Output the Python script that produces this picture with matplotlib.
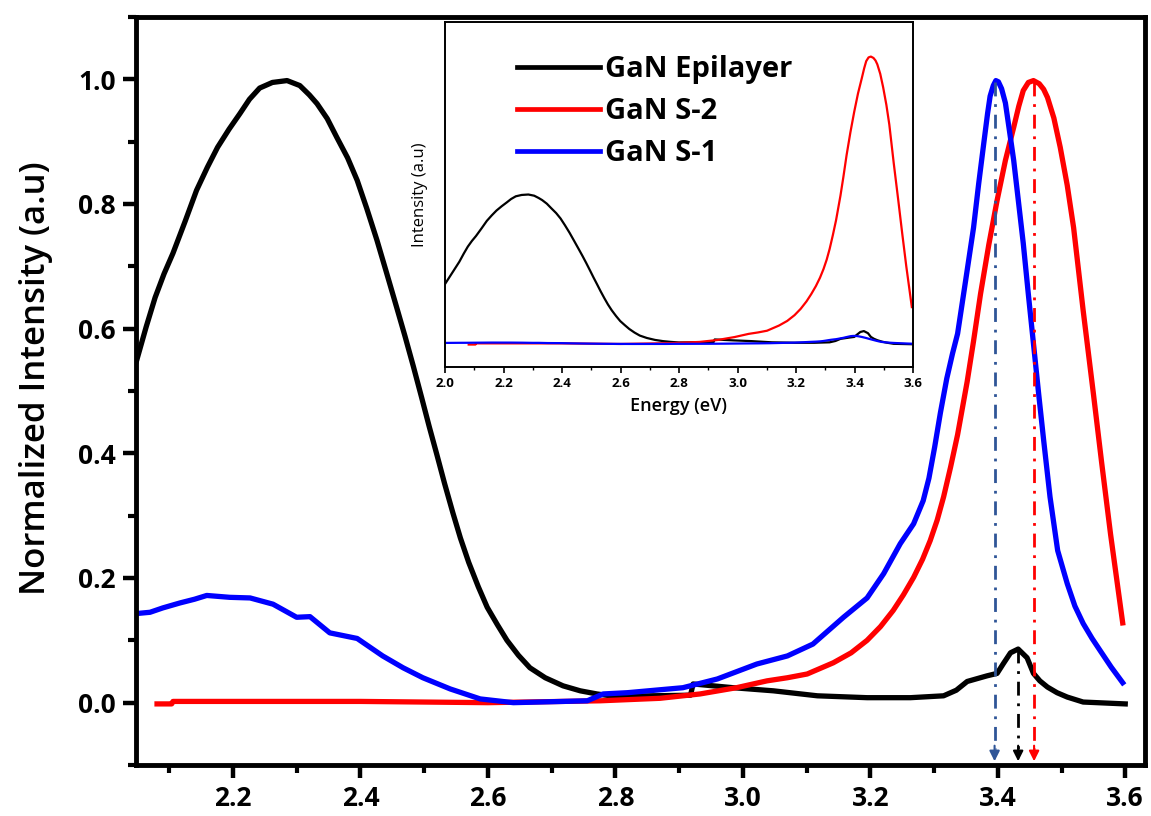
import matplotlib
matplotlib.use("Agg")
import matplotlib.pyplot as plt
from matplotlib.ticker import MultipleLocator, NullLocator
from matplotlib.lines import Line2D

plt.rcParams['font.family'] = ['Open Sans', 'DejaVu Sans']

# ---------------- data ----------------
epi_x = [2.000, 2.049, 2.064, 2.078, 2.092, 2.106, 2.125, 2.143, 2.160, 2.176, 2.194,
         2.211, 2.226, 2.242, 2.262, 2.285, 2.305, 2.320, 2.332, 2.348, 2.363, 2.380,
         2.395, 2.410, 2.426, 2.441, 2.457, 2.470, 2.483, 2.496, 2.508, 2.520, 2.532,
         2.545, 2.557, 2.570, 2.585, 2.599, 2.615, 2.630, 2.648, 2.666, 2.690, 2.718,
         2.745, 2.771, 2.800, 2.855, 2.918, 2.922, 2.985, 3.048, 3.117, 3.195, 3.263,
         3.315, 3.335, 3.352, 3.383, 3.399, 3.409, 3.420, 3.432, 3.446, 3.456, 3.466,
         3.478, 3.493, 3.509, 3.534, 3.600]
epi_y = [0.400, 0.549, 0.603, 0.650, 0.688, 0.721, 0.772, 0.822, 0.859, 0.891, 0.920,
         0.945, 0.968, 0.986, 0.995, 0.998, 0.990, 0.975, 0.961, 0.937, 0.907, 0.874,
         0.838, 0.793, 0.742, 0.690, 0.634, 0.588, 0.540, 0.490, 0.443, 0.398, 0.352,
         0.305, 0.264, 0.225, 0.186, 0.153, 0.125, 0.100, 0.076, 0.056, 0.040, 0.027,
         0.019, 0.014, 0.010, 0.011, 0.012, 0.030, 0.024, 0.019, 0.011, 0.008, 0.008,
         0.011, 0.020, 0.034, 0.043, 0.047, 0.063, 0.080, 0.086, 0.072, 0.047, 0.035,
         0.025, 0.016, 0.009, 0.001, -0.002]

s2_x = [2.081, 2.104, 2.106, 2.400, 2.600, 2.776, 2.870, 2.933, 2.990, 3.038, 3.070,
        3.101, 3.142, 3.170, 3.195, 3.216, 3.236, 3.252, 3.268, 3.282, 3.294, 3.305,
        3.315, 3.326, 3.337, 3.352, 3.362, 3.373, 3.386, 3.399, 3.412, 3.425, 3.433,
        3.440, 3.448, 3.456, 3.465, 3.472, 3.478, 3.488, 3.498, 3.509, 3.519, 3.534,
        3.550, 3.563, 3.577, 3.596]
s2_y = [-0.002, -0.002, 0.002, 0.002, 0.000, 0.003, 0.007, 0.014, 0.024, 0.035, 0.040,
        0.046, 0.064, 0.080, 0.100, 0.122, 0.148, 0.173, 0.201, 0.230, 0.260, 0.293,
        0.330, 0.378, 0.430, 0.515, 0.580, 0.656, 0.735, 0.806, 0.870, 0.923, 0.957,
        0.982, 0.995, 0.998, 0.993, 0.984, 0.971, 0.938, 0.891, 0.830, 0.762, 0.629,
        0.496, 0.385, 0.270, 0.128]

s1_x = [2.000, 2.049, 2.070, 2.090, 2.117, 2.140, 2.159, 2.195, 2.227, 2.263, 2.300,
        2.321, 2.352, 2.395, 2.435, 2.467, 2.498, 2.541, 2.588, 2.640, 2.718, 2.756,
        2.781, 2.819, 2.906, 2.960, 3.022, 3.070, 3.110, 3.158, 3.195, 3.221, 3.247,
        3.268, 3.283, 3.292, 3.301, 3.310, 3.320, 3.329, 3.337, 3.350, 3.362, 3.370,
        3.378, 3.384, 3.388, 3.393, 3.397, 3.401, 3.406, 3.412, 3.418, 3.425, 3.432,
        3.440, 3.448, 3.456, 3.464, 3.472, 3.482, 3.494, 3.509, 3.521, 3.534, 3.548,
        3.561, 3.578, 3.596]
s1_y = [0.130, 0.143, 0.145, 0.152, 0.160, 0.166, 0.172, 0.169, 0.168, 0.158, 0.137,
        0.138, 0.112, 0.103, 0.075, 0.056, 0.040, 0.022, 0.006, 0.000, 0.002, 0.003,
        0.014, 0.016, 0.024, 0.038, 0.062, 0.075, 0.094, 0.137, 0.168, 0.207, 0.255,
        0.287, 0.324, 0.360, 0.410, 0.465, 0.520, 0.560, 0.592, 0.680, 0.762, 0.832,
        0.897, 0.945, 0.973, 0.990, 0.998, 0.996, 0.985, 0.962, 0.920, 0.870, 0.808,
        0.737, 0.655, 0.576, 0.497, 0.421, 0.330, 0.244, 0.191, 0.155, 0.127, 0.103,
        0.083, 0.057, 0.032]

# relative intensities of the three samples in the inset (S-2 peak = 1)
inset_scale = {'epi': 0.52, 's2': 1.0, 's1': 0.028}

# peak-position markers (x, top of marker)
mark_x = [3.395, 3.432, 3.457]
mark_top = [0.995, 0.086, 0.995]
mark_colors = ['#2F5597', 'black', 'red']

labels = ['GaN Epilayer', 'GaN S-2', 'GaN S-1']

# ---------------- figure ----------------
W, H = 1151, 816
fig = plt.figure(figsize=(W / 100, H / 100), dpi=100)
ax = fig.add_axes([136 / W, (H - 765) / H, (1145 - 136) / W, (765 - 17) / H])

lw_main = 3.8
ax.plot(epi_x, epi_y, color='black', lw=lw_main)
ax.plot(s2_x, s2_y, color='#ff0000', lw=lw_main)
ax.plot(s1_x, s1_y, color='#0000ff', lw=lw_main)

ax.set_xlim(2.048, 3.631)
ax.set_ylim(-0.1, 1.1)

y_arrow_end = -0.094
for xm, yt, c in zip(mark_x, mark_top, mark_colors):
    ax.plot([xm, xm], [yt, y_arrow_end + 0.02], color=c, lw=2.0,
            linestyle=(0, (5, 2.8, 1, 2.8)))
    ax.annotate('', xy=(xm, y_arrow_end), xytext=(xm, y_arrow_end + 0.025),
                arrowprops=dict(arrowstyle='-|>,head_length=0.6,head_width=0.3',
                                color=c, lw=1.5, shrinkA=0, shrinkB=0))

ax.set_yticks([0.0, 0.2, 0.4, 0.6, 0.8, 1.0])
ax.set_xticks([2.2, 2.4, 2.6, 2.8, 3.0, 3.2, 3.4, 3.6])
ax.xaxis.set_minor_locator(MultipleLocator(0.1))
ax.yaxis.set_minor_locator(MultipleLocator(0.1))
ax.tick_params(which='major', direction='out', length=9.5, width=3.2, pad=5,
               labelsize=19)
ax.tick_params(which='minor', direction='out', length=6, width=3.0)
for lab in ax.get_xticklabels() + ax.get_yticklabels():
    lab.set_fontweight('bold')
for s in ax.spines.values():
    s.set_linewidth(3.5)

ax.set_ylabel('Normalized Intensity (a.u)', fontsize=25, fontweight='semibold')
ax.yaxis.set_label_coords(-0.082, 0.517)

# ---------------- inset ----------------
axi = fig.add_axes([445 / W, (H - 367) / H, (913 - 445) / W, (367 - 22) / H])
axi.plot(epi_x, [v * inset_scale['epi'] for v in epi_y], color='black', lw=1.6)
axi.plot(s2_x, [v * inset_scale['s2'] for v in s2_y], color='#ff0000', lw=1.6)
axi.plot(s1_x, [v * inset_scale['s1'] for v in s1_y], color='#0000ff', lw=1.6)
axi.set_xlim(2.0, 3.6)
axi.set_ylim(-0.08, 1.118)
axi.xaxis.set_major_locator(MultipleLocator(0.2))
axi.xaxis.set_minor_locator(MultipleLocator(0.1))
axi.yaxis.set_major_locator(NullLocator())
axi.tick_params(which='major', direction='out', length=4, width=1.2, pad=3,
                labelsize=9.5)
axi.tick_params(which='minor', direction='out', length=2.5, width=1.0)
for lab in axi.get_xticklabels():
    lab.set_fontweight('bold')
for s in axi.spines.values():
    s.set_linewidth(1.4)
axi.set_xlabel('Energy (eV)', fontsize=13, fontweight='semibold', labelpad=5)
axi.set_ylabel('Intensity (a.u)', fontsize=12, labelpad=12)

handles = [Line2D([], [], color='black', lw=3.4),
           Line2D([], [], color='#ff0000', lw=3.4),
           Line2D([], [], color='#0000ff', lw=3.4)]
leg = axi.legend(handles, labels, loc='upper left', bbox_to_anchor=(0.154, 0.905),
                 frameon=False, prop={'size': 21, 'weight': 'bold'},
                 handlelength=2.85, handletextpad=0.17, labelspacing=0.45,
                 borderaxespad=0, borderpad=0)

fig.savefig('out.png', dpi=100)
